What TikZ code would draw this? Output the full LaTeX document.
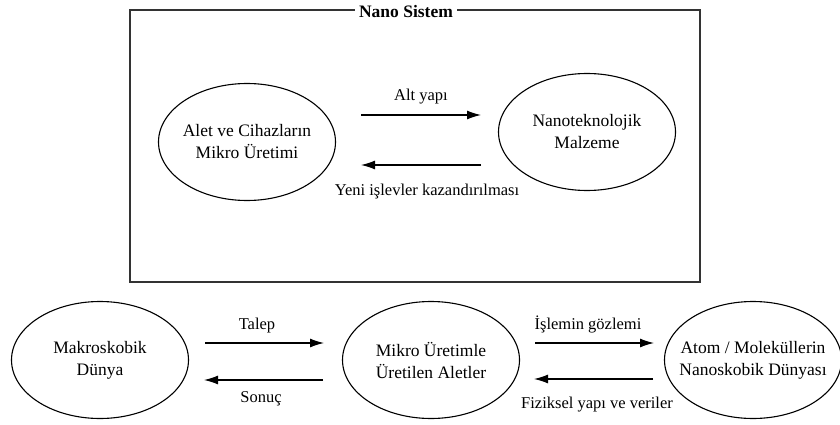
\documentclass[tikz,border=0pt]{standalone}
\usepackage{fontspec}
\setmainfont{Liberation Serif}
\usetikzlibrary{arrows.meta,shapes.geometric}
\begin{document}
\begin{tikzpicture}[x=1pt,y=-1pt,
  oval/.style={draw,line width=1.1pt,ellipse,minimum width=177pt,minimum height=117pt,inner xsep=-30pt,inner ysep=0pt,align=center,font=\fontsize{17.5}{22}\selectfont},
  flow/.style={line width=1.2pt,-{Latex[length=14pt,width=9pt]}},
  lbl/.style={font=\fontsize{16.5}{19}\selectfont,inner sep=0pt},
  frame/.style={draw=black!80,line width=1.6pt}]
\useasboundingbox (0,0) rectangle (840,425);
\draw[frame] (130,10) rectangle (700,282);
\node[fill=white,inner xsep=4pt,inner ysep=1pt,font=\fontsize{17.5}{19}\selectfont\bfseries] (title) at (406,12) {Nano Sistem};
\node[oval] (alet) at (247,142) {Alet ve Cihazların\\Mikro Üretimi};
\node[oval] (nano) at (587,132) {Nanoteknolojik\\Malzeme};
\coordinate (a1) at (361,115); \coordinate (a2) at (481,115);
\coordinate (b1) at (481,165); \coordinate (b2) at (361,165);
\draw[flow] (a1) -- (a2);
\draw[flow] (b1) -- (b2);
\node[lbl] (l1) at (421,97) {Alt yapı};
\node[lbl] (l2) at (427,192) {Yeni işlevler kazandırılması};
\node[oval] (makro) at (100,360) {Makroskobik\\Dünya};
\node[oval] (mikro) at (431,360) {Mikro Üretimle\\Üretilen Aletler};
\node[oval] (atom) at (753,360) {Atom / Moleküllerin\\Nanoskobik Dünyası};
\coordinate (c1) at (205,343); \coordinate (c2) at (324,343);
\coordinate (d1) at (323,380); \coordinate (d2) at (204,380);
\coordinate (e1) at (535,343); \coordinate (e2) at (654,343);
\coordinate (f1) at (653,379); \coordinate (f2) at (534,379);
\draw[flow] (c1) -- (c2);
\draw[flow] (d1) -- (d2);
\draw[flow] (e1) -- (e2);
\draw[flow] (f1) -- (f2);
\node[lbl] (l3) at (257,326) {Talep};
\node[lbl] (l4) at (261,399) {Sonuç};
\node[lbl] (l5) at (588,324) {İşlemin gözlemi};
\node[lbl] (l6) at (597,405) {Fiziksel yapı ve veriler};
\end{tikzpicture}
\end{document}
